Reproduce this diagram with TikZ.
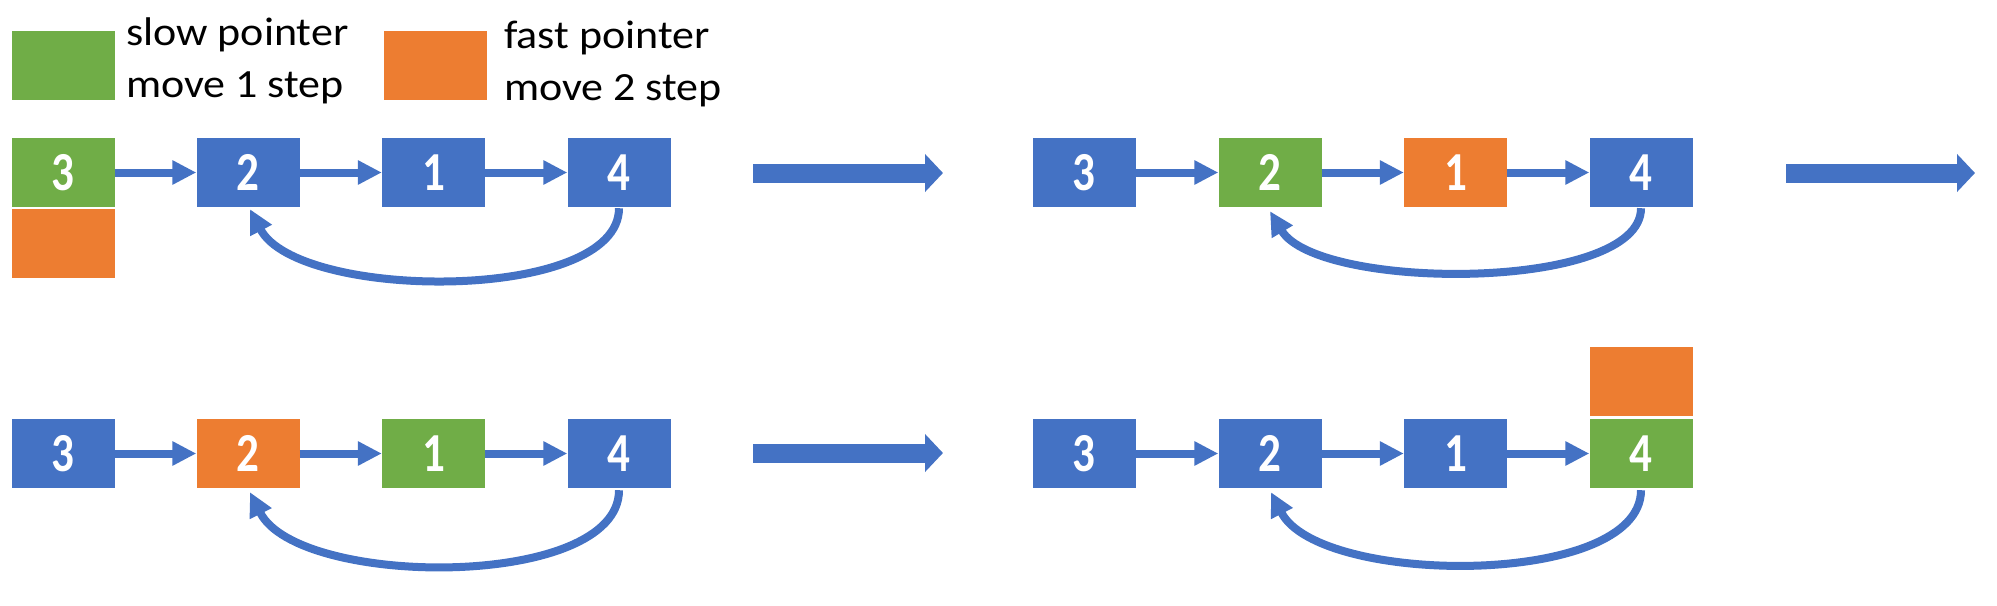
\documentclass[tikz,border=0pt]{standalone}
\usepackage{fontspec}
\usepackage{graphicx}
\setmainfont{Carlito}
\usetikzlibrary{arrows.meta}
\definecolor{oblue}{HTML}{4472C4}
\definecolor{ogreen}{HTML}{70AD47}
\definecolor{oorange}{HTML}{ED7D31}
\newcommand{\dg}[1]{\scalebox{0.82}[1]{#1}}
\newcommand{\lt}[1]{\scalebox{1.1}[1]{#1}}
\begin{document}
\begin{tikzpicture}[x=1pt,y=-1pt,
  cell/.style={draw=none,minimum width=103pt,minimum height=69pt,inner sep=0pt,text=white,font=\bfseries\fontsize{55}{57}\selectfont},
  bluecell/.style={cell,fill=oblue},
  greencell/.style={cell,fill=ogreen},
  orangecell/.style={cell,fill=oorange},
  legtext/.style={anchor=base west,inner sep=0pt,font=\fontsize{40}{44}\selectfont,text=black},
  link/.style={draw=oblue,line width=8pt,-{Triangle[length=24pt,width=23pt]}},
  back/.style={draw=oblue,line width=8pt,-{Triangle[length=24pt,width=23pt]}},
  bigarrow/.style={draw=oblue,line width=19pt,-{Triangle[length=18pt,width=37pt]}}
]
\useasboundingbox (0,0) rectangle (1997,605);
% legend
\node[greencell] (lg) at (63,65) {};
\node[legtext] (lgt1) at (126,45) {\lt{slow pointer}};
\node[legtext] (lgt2) at (126,97) {\lt{move 1 step}};
\node[orangecell] (lo) at (435.5,65) {};
\node[legtext] (lot1) at (504,48) {\lt{fast pointer}};
\node[legtext] (lot2) at (504,100) {\lt{move 2 step}};

% group A (top left)
\node[greencell] (a3) at (63,172.5) {\dg{3}};
\node[orangecell] (af) at (63,243.5) {};
\node[bluecell] (a2) at (248,172.5) {\dg{2}};
\node[bluecell] (a1) at (433.5,172.5) {\dg{1}};
\node[bluecell] (a4) at (619,172.5) {\dg{4}};
\draw[link] (a3.east) -- (a2.west);
\draw[link] (a2.east) -- (a1.west);
\draw[link] (a1.east) -- (a4.west);
\draw[back] ([yshift=-1pt]a4.south) .. controls +(0,95) and +(48,92) .. ([xshift=2pt,yshift=-2pt]a2.south);

% group B (top right)
\node[bluecell] (b3) at (1084,172.5) {\dg{3}};
\node[greencell] (b2) at (1270,172.5) {\dg{2}};
\node[orangecell] (b1) at (1455.5,172.5) {\dg{1}};
\node[bluecell] (b4) at (1641,172.5) {\dg{4}};
\draw[link] (b3.east) -- (b2.west);
\draw[link] (b2.east) -- (b1.west);
\draw[link] (b1.east) -- (b4.west);
\draw[back] ([yshift=-1pt]b4.south) .. controls +(0,84) and +(48,80) .. ([yshift=-4pt]b2.south);

% group C (bottom left)
\node[bluecell] (c3) at (63,453.5) {\dg{3}};
\node[orangecell] (c2) at (248,453.5) {\dg{2}};
\node[greencell] (c1) at (433.5,453.5) {\dg{1}};
\node[bluecell] (c4) at (619,453.5) {\dg{4}};
\draw[link] (c3.east) -- (c2.west);
\draw[link] (c2.east) -- (c1.west);
\draw[link] (c1.east) -- (c4.west);
\draw[back] ([yshift=-2pt]c4.south) .. controls +(0,100) and +(48,96) .. ([xshift=2pt,yshift=-4pt]c2.south);

% group D (bottom right)
\node[bluecell] (d3) at (1084,453.5) {\dg{3}};
\node[bluecell] (d2) at (1270,453.5) {\dg{2}};
\node[bluecell] (d1) at (1455.5,453.5) {\dg{1}};
\node[greencell] (d4) at (1641,453.5) {\dg{4}};
\node[orangecell] (df) at (1641,381.5) {};
\draw[link] (d3.east) -- (d2.west);
\draw[link] (d2.east) -- (d1.west);
\draw[link] (d1.east) -- (d4.west);
\draw[back] ([yshift=-2pt]d4.south) .. controls +(0,98) and +(48,94) .. ([xshift=1pt,yshift=-4pt]d2.south);

% big arrows
\coordinate (s1) at (753,173);
\coordinate (e1) at (943,173);
\coordinate (s2) at (1786,173);
\coordinate (e2) at (1975,173);
\coordinate (s3) at (753,453);
\coordinate (e3) at (943,453);
\draw[bigarrow] (s1) -- (e1);
\draw[bigarrow] (s2) -- (e2);
\draw[bigarrow] (s3) -- (e3);
\end{tikzpicture}
\end{document}
